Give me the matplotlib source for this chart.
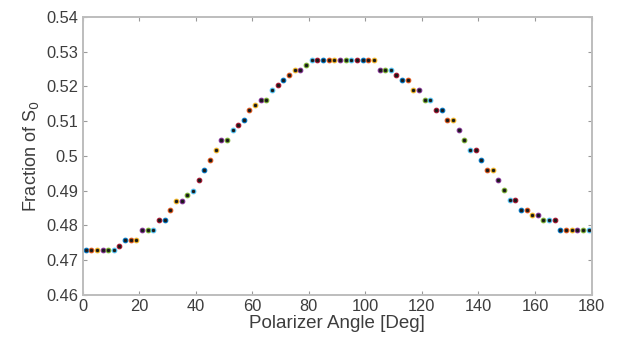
import matplotlib
matplotlib.use('Agg')
import matplotlib.pyplot as plt

plt.rcParams['font.family'] = ['Liberation Sans', 'DejaVu Sans']

# polarizer angles (deg), 90 samples
angles = list(range(1, 180, 2))

# fraction of S0
fraction = [
    0.4728, 0.4728, 0.4728, 0.4728, 0.4728, 0.4728,
    0.4742,
    0.4757, 0.4757, 0.4757,
    0.4786, 0.4786, 0.4786,
    0.4814, 0.4814,
    0.4843,
    0.4871, 0.4871,
    0.4886, 0.4900, 0.4930, 0.4958, 0.4987, 0.5016,
    0.5045, 0.5045,
    0.5073, 0.5088, 0.5103, 0.5131, 0.5147,
    0.5162, 0.5162,
    0.5190, 0.5204, 0.5219, 0.5233,
    0.5248, 0.5248,
    0.5262,
    0.5276, 0.5276, 0.5276, 0.5276, 0.5276, 0.5276,
    0.5276, 0.5276, 0.5276, 0.5276, 0.5276, 0.5276,
    0.5248, 0.5248, 0.5248,
    0.5233,
    0.5219, 0.5219,
    0.5190, 0.5190,
    0.5162, 0.5162,
    0.5131, 0.5131,
    0.5103, 0.5103,
    0.5074, 0.5045,
    0.5017, 0.5017,
    0.4988,
    0.4959, 0.4959,
    0.4930, 0.4901,
    0.4872, 0.4872,
    0.4844, 0.4844,
    0.4829, 0.4829,
    0.4815, 0.4815, 0.4815,
    0.4786, 0.4786, 0.4786, 0.4786, 0.4786, 0.4786,
]

# matlab default colour order
colors = [(0, 0.447, 0.741), (0.85, 0.325, 0.098), (0.929, 0.694, 0.125),
          (0.494, 0.184, 0.556), (0.466, 0.674, 0.188), (0.301, 0.745, 0.933),
          (0.635, 0.078, 0.184)]

txt = '#3d3d3d'
fig = plt.figure(figsize=(6.22, 3.49), dpi=100)
ax = fig.add_axes([0.133, 0.155, 0.818, 0.797])

for i, (a, f) in enumerate(zip(angles, fraction)):
    ax.plot(a, f, 'o', markersize=3.3, markerfacecolor='#1a1a1a',
            markeredgecolor=colors[i % len(colors)], markeredgewidth=0.8)

ax.set_xlim(0, 180)
ax.set_ylim(0.46, 0.54)
ax.set_xticks(range(0, 181, 20))
ax.set_yticks([0.46, 0.47, 0.48, 0.49, 0.5, 0.51, 0.52, 0.53, 0.54])
ax.set_yticklabels(['0.46', '0.47', '0.48', '0.49', '0.5', '0.51', '0.52', '0.53', '0.54'])

for s in ax.spines.values():
    s.set_color('#bdbdbd')
    s.set_linewidth(1.4)
ax.tick_params(direction='in', length=3, width=0.8, color='#9a9a9a',
               top=True, right=True, labelsize=11.8, labelcolor=txt, pad=3)

ax.set_xlabel('Polarizer Angle [Deg]', fontsize=13.5, color=txt, labelpad=1)
ax.set_ylabel('Fraction of S$_0$', fontsize=13, color=txt, labelpad=4)

fig.savefig('out.png', dpi=100)
